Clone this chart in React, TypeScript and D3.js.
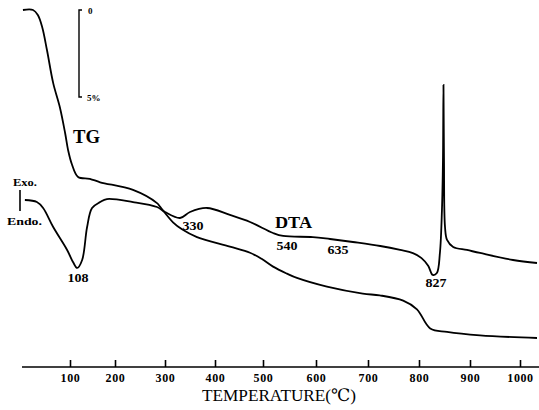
// App.tsx
import * as d3 from 'd3';
import React, { useEffect, useRef } from 'react';

// temperature axis ticks (°C) and where the printed ticks sit on the original chart
const tickTemps = [100, 200, 300, 400, 500, 600, 700, 800, 900, 1000];
const axisTemps = [0, 100, 200, 300, 400, 500, 600, 700, 800, 900, 1000];
const axisPixels = [22, 70, 115, 165, 215, 263, 316, 368, 419, 470, 520];

// TG curve: temperature (°C) vs mass loss (%)
const tgTemp = [2, 23, 33, 42, 52, 65, 79, 90, 96, 104, 118, 144, 167, 236, 284, 290, 316, 334, 364, 431, 473, 497, 519, 545, 564, 621, 690, 723, 769, 796, 822, 855, 920, 1034];
const tgLoss = [0, 0, 0.29, 0.98, 2.3, 4.2, 5.6, 7.1, 8.05, 8.85, 9.6, 9.7, 9.9, 10.34, 11.1, 11.3, 12.2, 12.6, 13.05, 13.6, 13.95, 14.3, 14.75, 15.15, 15.4, 15.9, 16.3, 16.4, 16.7, 17.2, 18.3, 18.5, 18.7, 18.85];

// DTA curve: temperature (°C) vs signal (arbitrary, exo up)
const dtaTemp = [6, 31, 44, 65, 94, 107, 116, 127, 138, 149, 167, 182, 236, 284, 300, 330, 350, 384, 431, 473, 519, 538, 594, 627, 671, 724, 763, 788, 805, 818, 827, 835, 841, 845, 847, 848, 849, 851, 855, 867, 894, 920, 986, 1034];
const dtaSignal = [0, -0.29, -1.14, -3.86, -7.14, -8.9, -9.71, -8.57, -3.86, -1.14, -0.29, 0.14, -0.29, -1.0, -1.71, -2.57, -1.71, -1.14, -2.14, -3.14, -4.71, -5.14, -5.29, -5.57, -6.0, -6.57, -7.14, -7.6, -8.3, -9.4, -10.71, -10.43, -7.57, -1.43, 5.71, 16.43, 5.71, -3.86, -5.71, -6.71, -7.14, -7.57, -8.57, -9.0];

// peak annotations
const peakLabels = ['108', '330', '540', '635', '827'];
const peakPos = [[78, 282], [193, 230], [287, 250], [338, 254], [436, 287]];

const font = '"Liberation Serif", "DejaVu Serif", serif';

function App() {
    const ref = useRef<SVGSVGElement | null>(null);

    useEffect(() => {
        const svg = d3.select(ref.current);
        svg.selectAll('*').remove();

        const axisY = 367;

        const x = d3.scaleLinear().domain(axisTemps).range(axisPixels);
        // TG: scale bar 0 -> 5 %
        const yTg = d3.scaleLinear().domain([0, 5]).range([10, 97]);
        // DTA: arbitrary units
        const yDta = d3.scaleLinear().domain([0, 10]).range([200, 130]);

        const tg = tgTemp.map((t, i) => [t, tgLoss[i]]);
        const dta = dtaTemp.map((t, i) => [t, dtaSignal[i]]);

        const tgLine = d3.line<number[]>()
            .x(d => x(d[0]))
            .y(d => yTg(d[1]))
            .curve(d3.curveCatmullRom.alpha(0.5));
        const dtaLine = d3.line<number[]>()
            .x(d => x(d[0]))
            .y(d => yDta(d[1]))
            .curve(d3.curveCatmullRom.alpha(0.5));

        svg.append('path').datum(tg)
            .attr('d', tgLine)
            .attr('fill', 'none')
            .attr('stroke', '#000')
            .attr('stroke-width', 1.8);

        svg.append('path').datum(dta)
            .attr('d', dtaLine)
            .attr('fill', 'none')
            .attr('stroke', '#000')
            .attr('stroke-width', 1.8);

        // x axis, ticks pointing up
        const gx = svg.append('g')
            .attr('transform', 'translate(0,' + axisY + ')')
            .call(d3.axisBottom(x).tickValues(tickTemps).tickSizeInner(-7).tickSizeOuter(0).tickPadding(6.5).tickFormat(d3.format('d')));
        gx.select('.domain').remove();
        gx.selectAll('line').attr('stroke', '#000').attr('stroke-width', 1.6);
        gx.selectAll('text')
            .attr('fill', '#000')
            .style('font-family', font)
            .style('font-size', '12px')
            .style('font-weight', 'bold')
            .style('letter-spacing', '0.6px');
        gx.append('line')
            .attr('x1', x(0)).attr('x2', x(1038))
            .attr('y1', 0).attr('y2', 0)
            .attr('stroke', '#000')
            .attr('stroke-width', 1.6);

        svg.append('text')
            .attr('x', 279).attr('y', 401)
            .attr('text-anchor', 'middle')
            .attr('textLength', 154)
            .attr('lengthAdjust', 'spacingAndGlyphs')
            .style('font-family', font)
            .style('font-size', '17px')
            .text('TEMPERATURE(℃)');

        // TG scale bar
        const bar = svg.append('g').attr('stroke', '#000').attr('stroke-width', 1.4).attr('fill', 'none');
        bar.append('path').attr('d', `M82,${yTg(0)}H79V${yTg(5)}H82`);
        svg.append('text').attr('x', 88).attr('y', 14)
            .style('font-family', font).style('font-size', '9px').style('font-weight', 'bold')
            .text('0');
        svg.append('text').attr('x', 87).attr('y', 101)
            .style('font-family', font).style('font-size', '9px').style('font-weight', 'bold')
            .text('5%');

        // curve names
        svg.append('text').attr('x', 73).attr('y', 143)
            .attr('textLength', 27).attr('lengthAdjust', 'spacingAndGlyphs')
            .style('font-family', font).style('font-size', '19px').style('font-weight', 'bold')
            .text('TG');
        svg.append('text').attr('x', 275).attr('y', 228)
            .attr('textLength', 37).attr('lengthAdjust', 'spacingAndGlyphs')
            .style('font-family', font).style('font-size', '16px').style('font-weight', 'bold')
            .text('DTA');

        // Exo / Endo marker
        svg.append('line').attr('x1', 20).attr('x2', 20).attr('y1', 190).attr('y2', 211)
            .attr('stroke', '#000').attr('stroke-width', 1.6);
        svg.append('text').attr('x', 13).attr('y', 186)
            .attr('textLength', 24).attr('lengthAdjust', 'spacingAndGlyphs')
            .style('font-family', font).style('font-size', '11px').style('font-weight', 'bold')
            .text('Exo.');
        svg.append('text').attr('x', 7).attr('y', 225)
            .attr('textLength', 35).attr('lengthAdjust', 'spacingAndGlyphs')
            .style('font-family', font).style('font-size', '11px').style('font-weight', 'bold')
            .text('Endo.');

        // peak temperatures
        svg.selectAll('text.peak')
            .data(peakLabels)
            .enter().append('text')
            .attr('class', 'peak')
            .attr('x', (d, i) => peakPos[i][0])
            .attr('y', (d, i) => peakPos[i][1])
            .attr('text-anchor', 'middle')
            .attr('textLength', 21)
            .attr('lengthAdjust', 'spacingAndGlyphs')
            .style('font-family', font)
            .style('font-size', '12px')
            .style('font-weight', 'bold')
            .text(d => d);
    }, []);

    return (
        <svg ref={ref} width={539} height={410}
            style={{ position: 'absolute', left: 0, top: 0, background: '#fff', display: 'block' }} />
    );
}

export default App;
